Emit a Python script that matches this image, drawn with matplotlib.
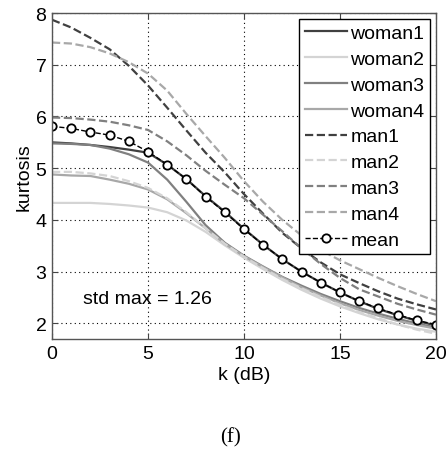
import matplotlib
matplotlib.use('Agg')
import matplotlib.pyplot as plt

plt.rcParams['font.family'] = ['Liberation Sans', 'DejaVu Sans']

# k in dB
k = list(range(21))

# kurtosis curves
woman1 = [5.50, 5.48, 5.45, 5.41, 5.36, 5.30, 5.07, 4.79, 4.46, 4.16, 3.83,
          3.52, 3.24, 3.00, 2.79, 2.60, 2.43, 2.28, 2.16, 2.05, 1.96]
woman2 = [4.33, 4.33, 4.33, 4.31, 4.28, 4.24, 4.15, 3.99, 3.77, 3.51, 3.27,
          3.05, 2.84, 2.65, 2.48, 2.33, 2.20, 2.08, 1.98, 1.90, 1.84]
woman3 = [5.48, 5.47, 5.45, 5.38, 5.27, 5.11, 4.78, 4.35, 3.90, 3.56, 3.31,
          3.10, 2.90, 2.73, 2.57, 2.43, 2.30, 2.19, 2.09, 2.00, 1.92]
woman4 = [4.88, 4.86, 4.85, 4.78, 4.70, 4.59, 4.40, 4.13, 3.84, 3.54, 3.30,
          3.09, 2.89, 2.70, 2.54, 2.39, 2.26, 2.15, 2.05, 1.97, 1.90]
man1 = [7.87, 7.72, 7.52, 7.30, 6.98, 6.60, 6.17, 5.73, 5.30, 4.92, 4.50,
        4.12, 3.75, 3.45, 3.18, 2.95, 2.78, 2.62, 2.48, 2.37, 2.27]
man2 = [4.93, 4.93, 4.90, 4.85, 4.75, 4.62, 4.42, 4.15, 3.84, 3.54, 3.29,
        3.07, 2.86, 2.68, 2.51, 2.36, 2.22, 2.10, 1.98, 1.88, 1.80]
man3 = [5.98, 5.97, 5.94, 5.90, 5.83, 5.74, 5.52, 5.25, 4.95, 4.68, 4.42,
        4.10, 3.78, 3.45, 3.15, 2.88, 2.66, 2.52, 2.38, 2.27, 2.17]
man4 = [7.43, 7.41, 7.34, 7.22, 7.05, 6.83, 6.50, 6.05, 5.62, 5.20, 4.75,
        4.35, 4.00, 3.70, 3.42, 3.22, 3.05, 2.88, 2.72, 2.57, 2.43]
mean = [5.81, 5.77, 5.70, 5.64, 5.52, 5.32, 5.07, 4.79, 4.45, 4.15, 3.82,
        3.52, 3.24, 3.00, 2.79, 2.60, 2.43, 2.29, 2.17, 2.06, 1.98]

series = [('woman1', woman1), ('woman2', woman2), ('woman3', woman3), ('woman4', woman4),
          ('man1', man1), ('man2', man2), ('man3', man3), ('man4', man4)]
greys = ['#404040', '#d4d4d4', '#808080', '#a8a8a8']

fig = plt.figure(figsize=(4.47, 4.52), dpi=100)
ax = fig.add_axes([0.1163, 0.2478, 0.8591, 0.7212])

for i, (name, vals) in enumerate(series):
    ls = '-' if name.startswith('woman') else '--'
    ax.plot(k, vals, ls, color=greys[i % 4], lw=1.6, label=name)

ax.plot(k, mean, '--', color='black', lw=1.0, marker='o', ms=6,
        mfc='white', mec='black', mew=1.3, label='mean')

ax.set_xlim(0, 20)
ax.set_ylim(1.7, 8)
ax.set_xticks([0, 5, 10, 15, 20])
ax.set_yticks([2, 3, 4, 5, 6, 7, 8])
ax.grid(True, linestyle=(0, (1, 3)), color='black', lw=0.8)
ax.tick_params(direction='in', top=True, right=True, labelsize=14, pad=4,
               length=4, color='#444444')
for sp in ax.spines.values():
    sp.set_color('#555555')
    sp.set_linewidth(1.0)

ax.set_xlabel('k (dB)', fontsize=14, labelpad=3)
ax.set_ylabel('kurtosis', fontsize=14, labelpad=2)

ax.text(1.6, 2.48, 'std max = 1.26', fontsize=14, ha='left', va='center')

leg = ax.legend(loc='upper right', fontsize=14, handlelength=2.2, handletextpad=0.15,
                labelspacing=0.42, borderpad=0.3, borderaxespad=0.3,
                fancybox=False, framealpha=1, edgecolor='black', numpoints=1)
leg.get_frame().set_linewidth(1.0)

fig.text(0.515, 0.009, '(f)', fontsize=15, family='Liberation Serif', ha='center', va='bottom')

fig.savefig('out.png', dpi=100)
